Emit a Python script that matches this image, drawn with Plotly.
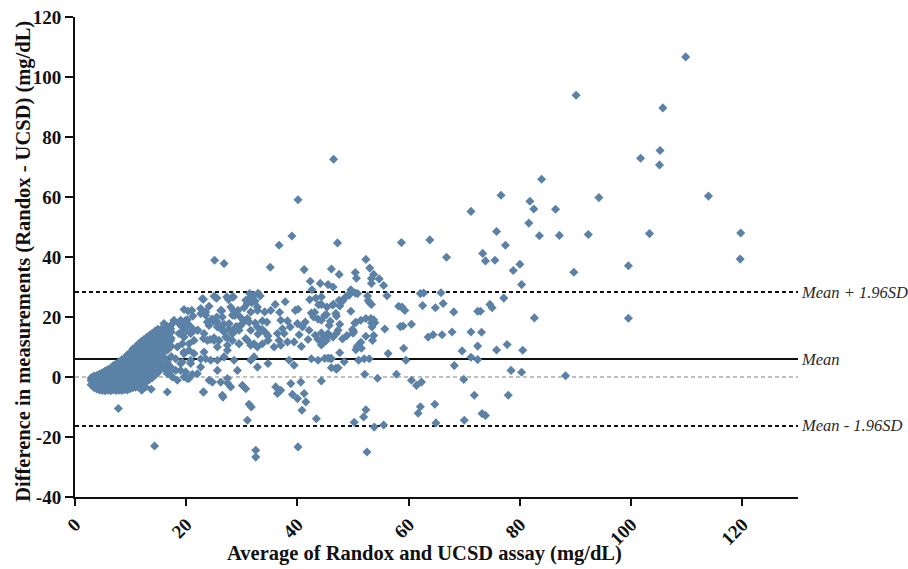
import plotly.graph_objects as go

# ---- summary statistics (mg/dL) ----
MEAN_DIFF = 6.0
UPPER_LOA = 28.3
LOWER_LOA = -16.3
X_RANGE = [0, 130]
Y_RANGE = [-40, 120]

x_ticks = [0, 20, 40, 60, 80, 100, 120]
x_tick_labels = ["0", "20", "40", "60", "80", "100", "120"]
y_ticks = [-40, -20, 0, 20, 40, 60, 80, 100, 120]
y_tick_labels = ["-40", "-20", "0", "20", "40", "60", "80", "100", "120"]

# ---- dense cluster of low-concentration samples (read column by column) ----
blob_avg = [2.9, 3.4, 3.9, 4.4, 4.9, 5.4, 5.9, 6.4, 6.9, 7.4, 7.9, 8.4, 8.9, 9.4, 9.9,
            10.4, 10.9, 11.4, 11.9, 12.4, 12.9, 13.4, 13.9, 14.4, 14.9, 15.4, 16.0, 16.6, 17.3]
blob_diff = [
    [-2.6, -1.2, -0.3],
    [-3.5, -2.0, -0.6, 0.3],
    [-4.0, -2.5, -1.0, 0.5],
    [-4.3, -2.8, -1.3, 0.2, 1.0],
    [-4.5, -3.0, -1.5, 0.0, 1.4],
    [-4.6, -3.1, -1.6, -0.1, 1.4, 2.0],
    [-4.4, -2.9, -1.4, 0.1, 1.6, 2.5],
    [-4.6, -3.1, -1.6, -0.1, 1.4, 2.9],
    [-4.3, -2.8, -1.3, 0.2, 1.7, 3.2, 3.8],
    [-4.5, -3.0, -1.5, 0.0, 1.5, 3.0, 4.3],
    [-4.4, -2.9, -1.4, 0.1, 1.6, 3.1, 4.6, 5.0],
    [-4.5, -3.0, -1.5, 0.0, 1.5, 3.0, 4.5, 5.7],
    [-4.2, -2.7, -1.2, 0.3, 1.8, 3.3, 4.8, 6.3],
    [-4.3, -2.8, -1.3, 0.2, 1.7, 3.2, 4.7, 6.2, 7.3],
    [-3.9, -2.4, -0.9, 0.6, 2.1, 3.6, 5.1, 6.6, 8.1],
    [-3.6, -2.1, -0.6, 0.9, 2.4, 3.9, 5.4, 6.9, 8.4, 9.3],
    [-3.4, -1.9, -0.4, 1.1, 2.6, 4.1, 5.6, 7.1, 8.6, 10.0],
    [-3.2, -1.7, -0.2, 1.3, 2.8, 4.3, 5.8, 7.3, 8.8, 10.3, 11.0],
    [-2.6, -1.1, 0.4, 1.9, 3.4, 4.9, 6.4, 7.9, 9.4, 10.9, 11.8],
    [-2.0, -0.5, 1.0, 2.5, 4.0, 5.5, 7.0, 8.5, 10.0, 11.5, 12.5],
    [-1.4, 0.1, 1.6, 3.1, 4.6, 6.1, 7.6, 9.1, 10.6, 12.1, 13.2],
    [-0.8, 0.7, 2.2, 3.7, 5.2, 6.7, 8.2, 9.7, 11.2, 12.7, 13.9],
    [-0.2, 1.3, 2.8, 4.3, 5.8, 7.3, 8.8, 10.3, 11.8, 13.3, 14.6],
    [0.6, 2.1, 3.6, 5.1, 6.6, 8.1, 9.6, 11.1, 12.6, 14.1, 15.3],
    [1.4, 2.9, 4.4, 5.9, 7.4, 8.9, 10.4, 11.9, 13.4, 14.9, 15.9],
    [2.6, 4.6, 6.3, 7.9, 9.5, 11.1, 12.7, 14.3, 15.8],
    [3.8, 6.6, 8.4, 10.2, 12.0, 13.8, 15.4, 16.4],
    [5.0, 8.9, 11.4, 13.4, 15.2, 16.8],
    [6.8, 10.3, 12.9, 15.0, 17.3],
]

# ---- samples with average below ~35 mg/dL outside the dense cluster ----
low_avg = [7.8, 14.3, 13.7, 16.6, 23.1, 26.6, 22.9, 25.3, 28.3, 24.1, 22.6, 23.5, 26.2, 26.5,
           28.0, 28.3, 30.7, 31.6, 18.1, 19.3, 18.1, 16.9, 16.0, 17.5, 18.4, 19.9, 20.5, 20.8,
           12.0, 12.7, 25.0, 27.3, 28.6, 29.3, 31.6, 32.8, 17.8, 18.7, 19.3, 19.9, 20.5, 17.2,
           16.0, 14.8, 16.3, 18.7, 19.6, 20.8, 22.0, 23.2, 24.1, 25.6, 26.2, 27.7, 29.2, 30.1,
           31.0, 31.6, 32.8, 28.3, 27.1, 25.0, 23.8, 21.4, 20.5, 19.3, 17.2, 16.0, 18.4, 19.6,
           21.4, 23.2, 25.6, 27.4, 29.5, 31.0, 32.2, 24.4, 26.8, 28.6, 29.2, 25.6, 22.6, 20.8,
           19.0, 17.2, 16.6, 19.6, 22.0, 24.1, 26.2, 27.4,
           31.4, 32.2, 32.9, 33.3, 31.0, 31.8, 32.4, 25.5, 23.1, 28.5, 30.4, 34.1, 32.8, 27.6,
           26.4, 28.5, 28.7, 29.7, 30.3, 25.5, 24.6, 25.0, 22.6, 23.5, 23.8, 19.6, 20.3, 21.0,
           19.0, 20.2, 21.2, 19.6, 20.7, 21.4, 22.1, 19.9, 19.0, 25.6, 26.8, 27.7, 28.5, 26.8,
           29.5, 29.7, 28.9, 31.3, 32.4, 33.7, 34.5, 33.7, 34.3, 32.9, 34.7, 23.1, 24.3, 25.0,
           25.9, 27.4, 28.3, 29.5, 30.7, 31.6, 32.8, 33.7, 34.7, 19.6, 20.5, 22.6, 23.5, 25.6,
           26.8, 27.4, 31.6, 32.2, 32.8, 34.7, 19.0, 20.2, 21.1, 23.1, 24.7, 26.5, 27.4, 28.0,
           30.1, 30.7, 31.3, 31.7, 31.0, 32.5, 32.5, 25.1, 26.8]
low_diff = [-10.5, -23.0, -4.1, -5.0, -5.0, -6.7, 26.1, 26.5, 26.7, 23.6, 21.1, 20.6, 22.2, 20.0,
            23.3, 20.6, 25.6, 26.7, 6.1, 5.0, 2.2, 1.7, 2.8, 0.0, -1.1, 1.7, -0.5, 5.6,
            -4.4, -3.3, 26.9, 26.7, 21.1, 22.2, 21.7, 23.3, 18.9, 17.8, 16.7, 18.9, 17.2, 16.1,
            17.8, 15.6, 14.5, 14.5, 13.3, 14.5, 15.6, 14.5, 17.2, 18.3, 16.1, 17.8, 16.7, 17.8,
            19.5, 15.6, 16.7, 14.5, 13.3, 12.2, 12.2, 12.2, 11.1, 11.1, 12.2, 11.1, 10.0, 8.3,
            7.8, 8.3, 10.0, 10.6, 11.1, 12.2, 11.1, 5.6, 6.7, 5.6, 2.2, 2.2, 3.3, 4.5,
            4.5, 3.3, 1.1, 0.0, 1.1, -1.1, -1.7, -0.5,
            27.8, 27.2, 27.9, 27.0, 24.5, 24.8, 25.3, 26.3, 25.9, 26.7, 23.1, 21.7, 22.2, 25.8,
            22.1, 22.1, 20.5, 20.0, 18.8, 20.0, 19.3, 18.6, 22.8, 21.7, 18.3, 22.5, 22.0, 22.2,
            18.9, 19.1, 20.3, 17.8, 16.9, 15.6, 15.6, 15.3, 14.5, 16.7, 17.6, 16.1, 14.8, 15.0,
            15.6, 17.0, 16.7, 18.3, 18.0, 18.7, 18.3, 15.8, 14.7, 14.3, 13.7, 12.8, 12.5, 13.1,
            12.2, 13.1, 12.2, 11.1, 12.8, 10.6, 10.0, 11.1, 12.2, 7.8, 8.9, 6.0, 6.1, 5.6,
            6.7, 8.9, 5.6, 6.7, 3.3, 4.5, 2.2, -0.5, 0.9, -5.0, -1.7, -6.1, -2.0, -3.3,
            -2.8, -3.9, -9.1, -10.0, -14.4, -24.4, -26.7, 38.9, 37.8]

# ---- samples with average between ~35 and ~68 mg/dL ----
mid_avg = [35.2, 36.0, 36.8, 37.8, 39.6, 40.1, 42.2, 43.3, 43.8, 42.5, 43.1, 42.9, 43.7, 44.9,
           47.5, 37.0, 38.2, 38.7, 37.3, 37.6, 36.4, 36.7, 38.2, 39.4, 40.3, 40.0, 40.9, 41.4,
           42.1, 43.2, 43.7, 44.3, 44.7, 45.5, 46.4, 47.0, 47.3, 45.7, 41.9, 40.7, 35.8, 37.0,
           38.5, 39.4, 42.5, 43.7, 46.1, 47.3, 36.1, 36.4, 37.0, 38.8, 39.1, 40.0, 40.6, 41.2,
           41.5, 40.8, 43.4, 40.1,
           46.5, 40.1, 39.0, 36.7, 47.2, 58.7, 63.8, 66.8, 35.1, 41.2, 46.1, 47.5, 52.3, 53.0,
           50.4, 50.6, 53.7, 53.3, 53.3, 54.7, 55.5, 42.3, 44.1, 45.5, 46.4, 49.6, 42.6,
           49.3, 50.4, 50.8, 52.6, 52.7, 53.0, 53.3, 56.1, 62.1, 62.7, 65.8, 48.1, 48.6, 49.2,
           46.5, 46.3, 44.3, 45.3, 47.6, 44.3, 49.6, 45.2, 46.9, 47.0, 58.2, 58.8, 59.3, 62.5,
           64.8, 66.2, 52.3, 53.2, 53.7, 53.3, 53.9, 53.4, 51.4, 50.5, 50.3, 45.9, 44.3, 47.6,
           58.5, 59.0, 60.5, 55.7, 49.9, 50.1, 50.0, 63.5, 64.4, 66.0, 52.3, 53.7, 53.5, 48.9,
           48.1, 45.6, 45.2, 44.7, 44.3, 51.4, 51.0, 50.7, 50.5, 51.5, 47.6, 56.3, 59.1, 44.9,
           45.5, 46.0, 46.1, 46.9, 47.0, 48.4, 51.0, 52.0, 52.9, 59.5, 44.3, 52.1, 54.4, 57.8,
           60.5, 61.4, 62.3, 62.1, 61.7, 64.7, 52.3, 51.9, 50.2, 53.8, 55.5, 64.9, 52.5]
mid_diff = [22.2, 24.2, 21.6, 25.1, 22.2, 22.6, 25.8, 26.3, 24.1, 21.3, 21.6, 20.0, 19.3, 20.6,
            25.6, 18.9, 18.7, 16.7, 16.1, 14.5, 14.5, 12.2, 11.7, 11.7, 14.1, 17.8, 16.7, 18.3,
            15.6, 13.9, 12.5, 14.7, 13.1, 14.5, 13.3, 14.5, 15.6, 17.2, 12.5, 10.2, 10.0, 10.6,
            5.6, 3.9, 6.1, 5.6, 6.1, 3.1, -3.3, -5.5, -4.4, -2.2, -5.8, -7.2, -1.7, -5.5,
            -8.3, -11.1, -13.9, -23.3,
            72.6, 59.1, 47.0, 43.9, 44.7, 44.8, 45.7, 39.9, 36.6, 35.8, 36.0, 34.2, 39.2, 36.3,
            34.8, 32.9, 34.2, 32.8, 31.2, 32.7, 30.5, 31.9, 31.2, 30.8, 30.0, 29.1, 29.1,
            27.3, 28.0, 27.8, 27.0, 25.5, 24.7, 24.2, 27.1, 27.8, 28.0, 28.1, 25.3, 26.6, 27.6,
            24.2, 24.0, 26.7, 23.3, 23.7, 24.2, 21.9, 20.8, 21.2, 20.3, 23.6, 23.3, 22.2, 23.8,
            23.1, 24.5, 19.5, 19.5, 19.1, 18.0, 18.1, 16.7, 18.9, 18.2, 18.0, 18.6, 18.9, 17.6,
            16.8, 17.0, 17.6, 16.0, 15.8, 15.2, 14.6, 13.3, 14.1, 14.1, 13.6, 13.8, 12.2, 13.8,
            12.7, 13.8, 12.2, 11.5, 10.7, 11.6, 10.7, 10.1, 9.1, 9.6, 8.1, 7.8, 9.6, 6.2,
            6.3, 6.2, 3.1, 2.9, 2.6, 5.1, 5.6, 6.1, 6.1, 5.6, -1.3, 0.9, -0.4, 0.9,
            -1.1, -2.8, -1.7, -9.9, -12.1, -9.1, -10.9, -13.3, -15.1, -16.7, -16.0, -15.3, -25.0]

# ---- samples with average above ~68 mg/dL ----
high_avg = [109.8, 90.1, 105.7, 101.7, 105.2, 105.1, 83.9, 76.6, 71.2, 81.8, 82.5, 86.4, 94.2,
            113.9, 81.6, 75.8, 77.4, 83.5, 87.1, 92.3, 103.3, 119.7, 73.3, 73.8, 75.5, 80.0,
            78.8, 99.5, 119.6, 89.7, 80.3, 77.1, 74.6, 75.0, 72.4, 72.9, 82.6, 71.2, 73.1,
            72.4, 77.7, 75.8, 80.5, 69.6, 71.2, 72.4, 78.4, 80.3, 88.2, 69.9, 71.8, 77.9,
            73.2, 73.8, 70.0, 68.1, 99.5, 67.8, 68.2]
high_diff = [106.7, 93.9, 89.7, 72.9, 75.5, 70.7, 65.9, 60.6, 55.2, 58.6, 56.0, 55.9, 59.8,
             60.3, 51.3, 48.5, 43.9, 47.1, 47.2, 47.5, 47.8, 48.0, 41.2, 38.7, 38.9, 37.6,
             35.5, 37.1, 39.3, 34.9, 30.8, 26.3, 24.2, 23.1, 21.9, 21.9, 19.7, 15.0, 14.9,
             10.3, 10.8, 9.0, 8.9, 8.7, 6.6, 5.8, 2.2, 1.6, 0.4, -0.8, -6.1, -6.1,
             -12.2, -12.8, -14.4, 21.7, 19.6, 15.0, 3.8]

# ---- assemble point list ----
all_avg, all_diff = [], []
for xv, col in zip(blob_avg, blob_diff):
    for yv in col:
        all_avg.append(xv)
        all_diff.append(yv)
all_avg += low_avg + mid_avg + high_avg
all_diff += low_diff + mid_diff + high_diff

SERIF = "Liberation Serif"
POINT_COLOR = "#5b82a6"

fig = go.Figure()

# reference lines (drawn first so points sit on top)
fig.add_trace(go.Scatter(x=X_RANGE, y=[0, 0], mode="lines",
                         line=dict(color="#808080", width=1.2, dash="4px,3px"),
                         hoverinfo="skip", showlegend=False))
fig.add_trace(go.Scatter(x=X_RANGE, y=[UPPER_LOA, UPPER_LOA], mode="lines",
                         line=dict(color="#111111", width=2, dash="4px,3px"),
                         hoverinfo="skip", showlegend=False))
fig.add_trace(go.Scatter(x=X_RANGE, y=[LOWER_LOA, LOWER_LOA], mode="lines",
                         line=dict(color="#111111", width=2, dash="4px,3px"),
                         hoverinfo="skip", showlegend=False))
fig.add_trace(go.Scatter(x=X_RANGE, y=[MEAN_DIFF, MEAN_DIFF], mode="lines",
                         line=dict(color="#111111", width=2.2),
                         hoverinfo="skip", showlegend=False))

fig.add_trace(go.Scatter(x=all_avg, y=all_diff, mode="markers",
                         marker=dict(symbol="diamond", size=7, color=POINT_COLOR,
                                     line=dict(width=0)),
                         showlegend=False))

axis_font = dict(family=SERIF, size=19, color="#111111", weight="bold")
label_font = dict(family=SERIF, size=16.5, color="#2a2a2a")

fig.update_layout(
    width=908, height=569,
    margin=dict(l=75, r=110, t=17, b=72, autoexpand=False),
    plot_bgcolor="white", paper_bgcolor="white",
    xaxis=dict(range=X_RANGE, tickvals=x_ticks, ticktext=x_tick_labels, tickangle=-45,
               showline=True, linecolor="#111111", linewidth=2, mirror=False,
               ticks="outside", ticklen=7, tickwidth=2, tickcolor="#111111",
               tickfont=axis_font, showgrid=False, zeroline=False, automargin=False),
    yaxis=dict(range=Y_RANGE, tickvals=y_ticks, ticktext=y_tick_labels,
               showline=True, linecolor="#111111", linewidth=2,
               ticks="outside", ticklen=8, tickwidth=2, tickcolor="#111111",
               tickfont=axis_font, showgrid=False, zeroline=False, automargin=False),
    annotations=[
        dict(text="<b>Average of Randox and UCSD assay (mg/dL)</b>",
             xref="paper", yref="paper", x=0.484, y=0, yshift=-56,
             xanchor="center", yanchor="middle", showarrow=False,
             font=dict(family=SERIF, size=20.5, color="#111111")),
        dict(text="<b>Difference in measurements (Randox - UCSD) (mg/dL)</b>",
             xref="paper", yref="paper", x=0, y=0.49, xshift=-51,
             xanchor="center", yanchor="middle", textangle=-90, showarrow=False,
             font=dict(family=SERIF, size=20.5, color="#111111")),
        dict(text="<i>Mean + 1.96SD</i>", xref="x", yref="y", x=X_RANGE[1], y=UPPER_LOA,
             xanchor="left", yanchor="middle", xshift=1, showarrow=False, font=label_font),
        dict(text="<i>Mean</i>", xref="x", yref="y", x=X_RANGE[1], y=MEAN_DIFF,
             xanchor="left", yanchor="middle", xshift=1, showarrow=False, font=label_font),
        dict(text="<i>Mean - 1.96SD</i>", xref="x", yref="y", x=X_RANGE[1], y=LOWER_LOA,
             xanchor="left", yanchor="middle", xshift=1, showarrow=False, font=label_font),
    ],
)

fig.write_html("out.html", config={"displayModeBar": False},
               post_script="document.body.style.margin='0px';")
